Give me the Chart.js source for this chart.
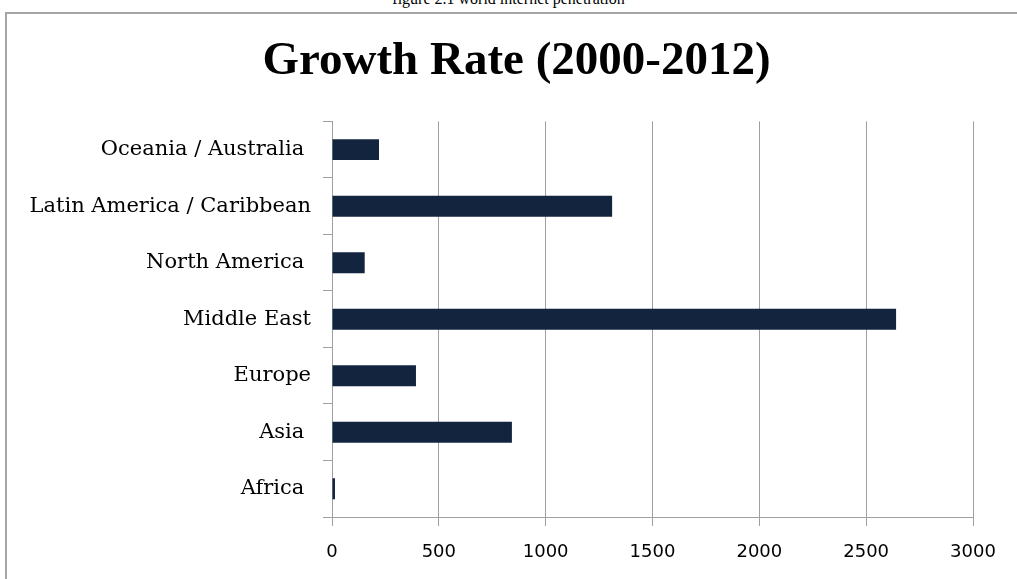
<!DOCTYPE html>
<html>
<head>
<meta charset="utf-8">
<script src="https://cdn.jsdelivr.net/npm/chart.js@4"></script>
<style>
  html, body { margin: 0; padding: 0; background: #fff; overflow: hidden; }
  body { width: 1017px; height: 579px; position: relative; }
  .caption {
    position: absolute; left: 0; width: 1017px; top: -10px;
    text-align: center; font: 16px "Liberation Serif", serif; color: #000;
  }
  .frame {
    position: absolute; left: 5px; top: 12px; width: 1100px; height: 700px;
    border-left: 2px solid #a6a6a6; border-top: 2px solid #a6a6a6;
  }
  #wrap { position: absolute; left: 0; top: 0; width: 1017px; height: 579px; }
</style>
</head>
<body>
<div class="caption">figure 2.1 world internet penetration</div>
<div class="frame"></div>
<div id="wrap"><canvas id="chart"></canvas></div>
<script>
  const regions = [
    "Oceania / Australia ",
    "Latin America / Caribbean",
    "North America ",
    "Middle East",
    "Europe",
    "Asia ",
    "Africa ",
  ];
  const growth = [220, 1311, 153, 2640, 393, 842, 14];
  const xTicks = [0, 500, 1000, 1500, 2000, 2500, 3000];

  const grid = "#a0a0a0";

  // the title sits centred on the whole frame, not on the plot
  const titleShift = {
    id: "titleShift",
    afterLayout(chart) {
      const t = chart.titleBlock;
      if (t) { t.left += 25; t.right += 25; }
    },
  };

  new Chart(document.getElementById("chart"), {
    type: "bar",
    data: {
      labels: regions,
      datasets: [{
        data: growth,
        backgroundColor: "#13243f",
        borderWidth: 0,
        barPercentage: 0.37,
        categoryPercentage: 1,
      }],
    },
    options: {
      indexAxis: "y",
      responsive: true,
      maintainAspectRatio: false,
      animation: false,
      layout: { padding: { left: 10, right: 44, top: 20, bottom: 0 } },
      plugins: {
        legend: { display: false },
        tooltip: { enabled: false },
        title: {
          display: true,
          text: "Growth Rate (2000-2012)",
          color: "#000",
          font: { family: "Liberation Serif", size: 47, weight: "bold" },
          padding: { top: 14, bottom: 31 },
        },
      },
      scales: {
        x: {
          min: 0,
          max: 3000,
          afterBuildTicks: (s) => { s.ticks = xTicks.map(v => ({ value: v })); },
          afterFit: (s) => { s.height = 62; },
          grid: { color: grid, lineWidth: 1, tickLength: 9, tickColor: grid },
          border: { color: grid, width: 1 },
          ticks: {
            color: "#000",
            padding: 16,
            callback: (v) => String(v),
            font: { family: "DejaVu Sans", size: 18 },
          },
        },
        y: {
          afterFit: (s) => { s.width = 322; },
          grid: { drawOnChartArea: false, tickLength: 9, color: grid, offset: true },
          border: { color: grid, width: 1 },
          ticks: {
            color: "#000",
            padding: 12,
            font: { family: "DejaVu Serif", size: 21 },
          },
        },
      },
    },
    plugins: [titleShift],
  });
</script>
</body>
</html>
